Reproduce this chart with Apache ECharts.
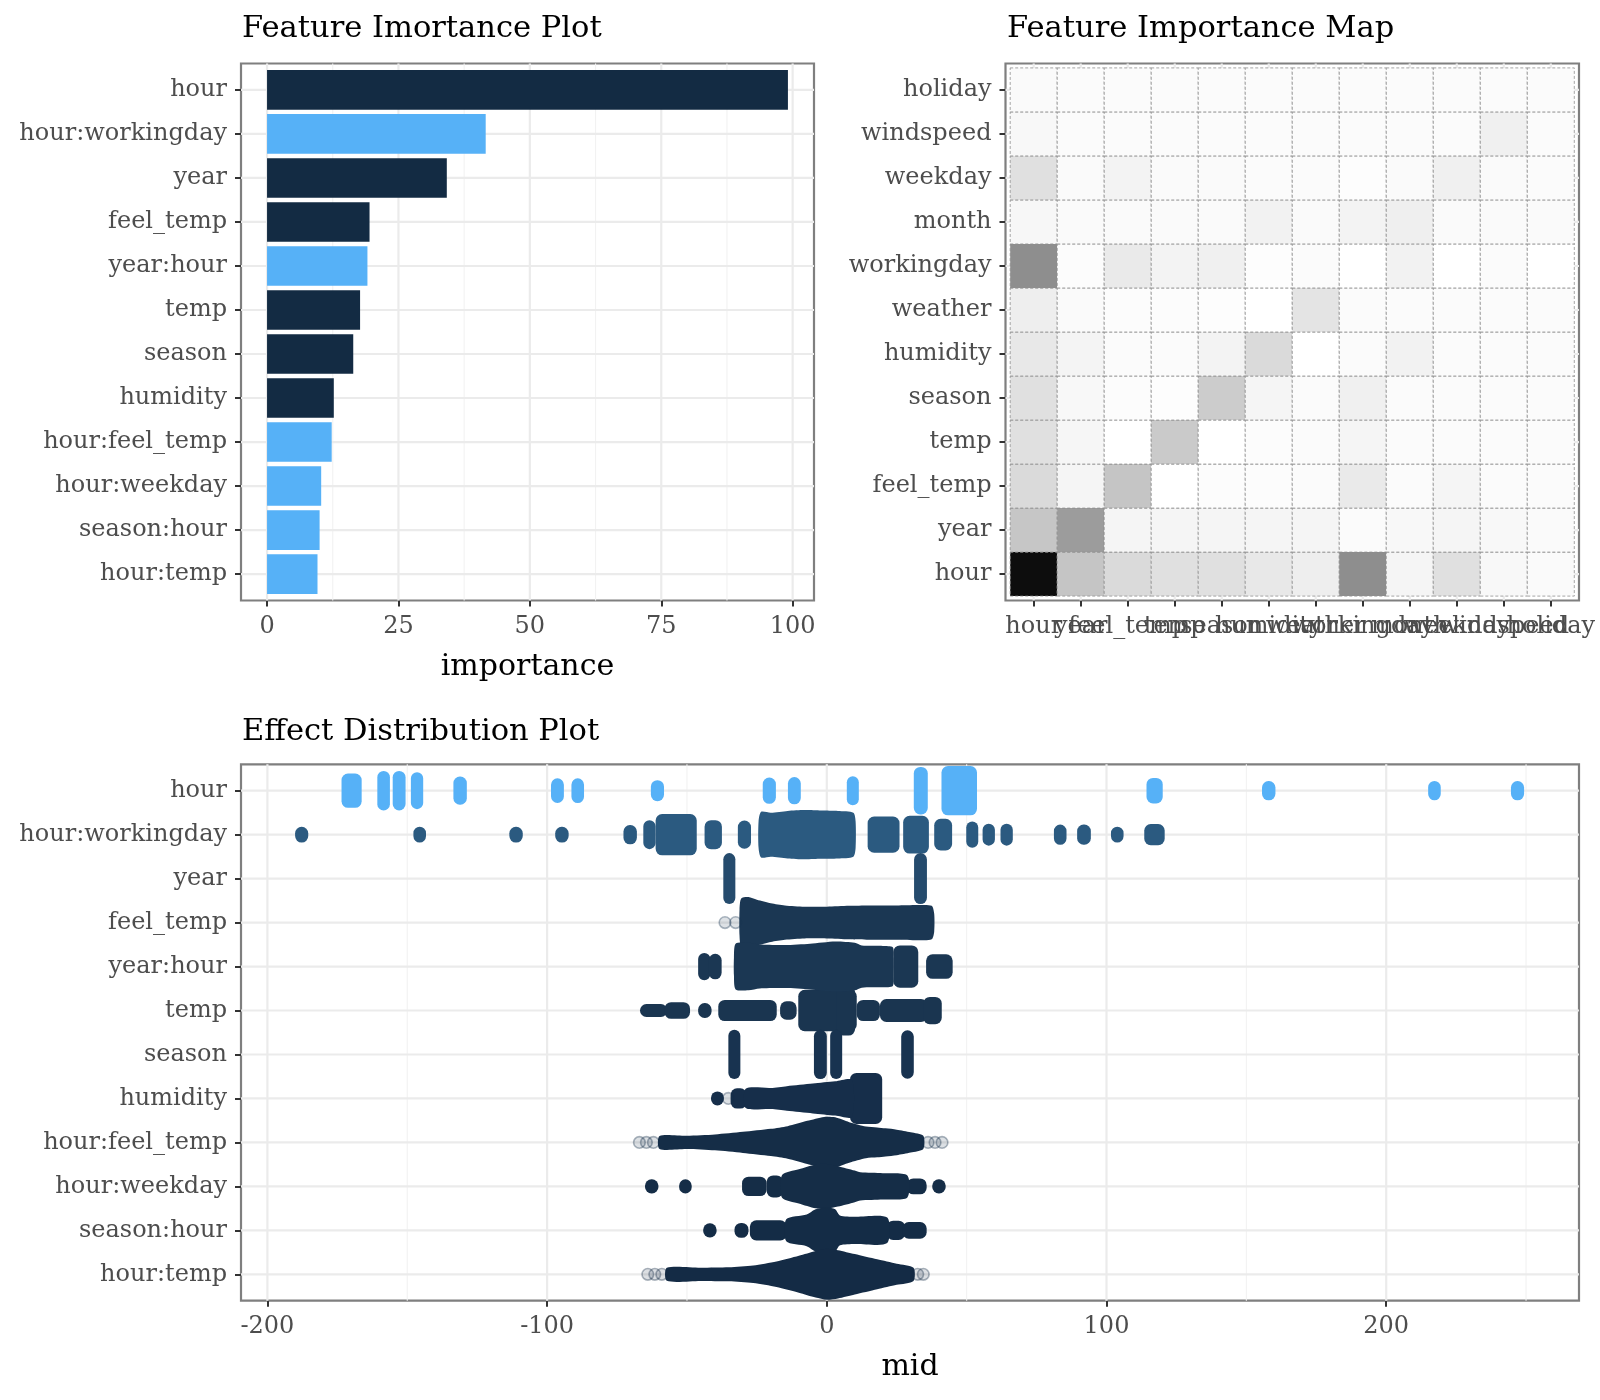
<!DOCTYPE html>
<html>
<head>
<meta charset="utf-8">
<title>Feature importance</title>
<script src="https://cdn.jsdelivr.net/npm/echarts@6/dist/echarts.min.js"></script>
<style>
    html, body { margin: 0; padding: 0; background: #fff; }
    #main { width: 1600px; height: 1400px; }
</style>
</head>
<body>
<div id="main"></div>
<script>
// ---- data ----
// features, top to bottom (bar plot + effect plot)
var features = ['hour', 'hour:workingday', 'year', 'feel_temp', 'year:hour', 'temp', 'season',
    'humidity', 'hour:feel_temp', 'hour:weekday', 'season:hour', 'hour:temp'];
var importance = [99.1, 41.6, 34.2, 19.5, 19.1, 17.7, 16.4, 12.7, 12.3, 10.3, 10.0, 9.6];
var importanceTicks = [0, 25, 50, 75, 100];
var importanceMinor = [12.5, 37.5, 62.5, 87.5];

// heat map, same order on both axes (y from bottom)
var heatFeatures = ['hour', 'year', 'feel_temp', 'temp', 'season', 'humidity', 'weather',
    'workingday', 'month', 'weekday', 'windspeed', 'holiday'];
var heatValues = [
    [99.4, 21.1, 13.4, 11.2, 11.2, 8.2, 6.1, 42.3, 3.6, 11.2, 2.5, 1.75],   // hour
    [20.6, 36.7, 3.6, 3.6, 3.6, 3.6, 3.6, 1.4, 2.5, 3.6, 2.5, 1.75],        // year
    [13.4, 3.6, 21.1, 0, 1.1, 1.1, 1.4, 7.5, 1.4, 3.6, 1.4, 1.4],           // feel_temp
    [11.2, 3.2, 0, 19.3, 0, 1.1, 1.4, 3.6, 1.4, 1.4, 1.4, 1.4],             // temp
    [11.2, 2.5, 1.1, 0.8, 18.6, 3.6, 1.4, 5.4, 1.4, 1.4, 1.4, 1.4],         // season
    [8.2, 3.9, 1.4, 1.4, 4.3, 13.4, 0, 1.4, 4.6, 1.4, 1.4, 1.4],            // humidity
    [6.1, 1.75, 1.1, 1.1, 0.8, 0, 9.7, 1.4, 1.4, 1.4, 1.4, 1.4],            // weather
    [42.3, 1.1, 7.5, 4.3, 5.4, 0.8, 1.4, 0, 4.6, 0, 1.4, 0],                // workingday
    [2.9, 1.75, 1.75, 1.75, 1.75, 4.6, 1.75, 4.3, 5.7, 1.75, 1.75, 1.75],   // month
    [11.2, 1.75, 4.3, 1.75, 1.75, 1.4, 1.4, 0.8, 1.75, 5.4, 1.75, 1.4],     // weekday
    [2.5, 1.4, 1.4, 1.4, 1.4, 1.4, 1.4, 1.4, 1.4, 1.4, 5.4, 1.4],           // windspeed
    [1.75, 1.4, 1.4, 1.4, 1.4, 1.4, 1.4, 1.4, 1.4, 1.4, 1.4, 1.4]           // holiday
];
var heatTicks = [0, 1, 2, 3, 4, 5, 6, 7, 8, 9, 10, 11];

// effect distribution: columns of points  [row, xFrom, xTo, half spread (rows)]
var swarmColumns = [
    [0, -173.5, -166.3, 0.39], [0, -160.7, -156.2, 0.45], [0, -155.2, -150.6, 0.45], [0, -148.7, -144.3, 0.42],
    [0, -133.5, -128.7, 0.32], [0, -98.6, -94.0, 0.28], [0, -91.3, -86.8, 0.28], [0, -62.9, -58.2, 0.24],
    [0, -22.9, -18.2, 0.3], [0, -13.9, -9.3, 0.31], [0, 7.2, 11.4, 0.33], [0, 31.1, 36.1, 0.54],
    [0, 41.0, 53.7, 0.56], [0, 114.3, 120.1, 0.29], [0, 155.6, 160.4, 0.22], [0, 215.0, 219.5, 0.22],
    [0, 244.6, 249.3, 0.22],
    [1, -190.1, -185.4, 0.18], [1, -147.8, -143.3, 0.18], [1, -113.5, -108.7, 0.18], [1, -97.1, -92.3, 0.18],
    [1, -72.7, -67.9, 0.22], [1, -65.6, -61.2, 0.33], [1, -61.2, -46.5, 0.47], [1, -43.7, -37.5, 0.33],
    [1, -31.8, -27.1, 0.32], [1, 14.6, 26.0, 0.41], [1, 27.3, 36.5, 0.43],
    [1, 38.4, 44.8, 0.36], [1, 49.9, 54.1, 0.3], [1, 55.7, 60.1, 0.25], [1, 62.1, 66.5, 0.25],
    [1, 81.2, 85.7, 0.23], [1, 89.5, 94.4, 0.23], [1, 101.6, 106.1, 0.18], [1, 113.5, 120.8, 0.24],
    [2, -37.0, -32.7, 0.58], [2, 31.2, 35.8, 0.58],
    [4, -46.0, -41.6, 0.31], [4, -42.2, -37.6, 0.29], [4, 23.8, 32.7, 0.48], [4, 35.5, 45.0, 0.28],
    [5, -66.8, -57.0, 0.13], [5, -58.0, -48.9, 0.19], [5, -46.0, -41.2, 0.17], [5, -38.8, -17.9, 0.24],
    [5, -16.7, -10.8, 0.21], [5, -10.2, 10.7, 0.47], [5, 3.5, 10.1, 0.57], [5, 10.7, 19.0, 0.24],
    [5, 19.0, 36.0, 0.26], [5, 34.5, 41.1, 0.31],
    [6, -35.1, -31.0, 0.56], [6, -4.6, 0.0, 0.56], [6, 1.3, 5.4, 0.56], [6, 26.6, 31.1, 0.55],
    [7, -41.4, -36.8, 0.16], [7, -34.4, -28.6, 0.23], [7, 8.3, 19.8, 0.58],
    [9, -65.0, -60.2, 0.16], [9, -52.8, -48.3, 0.16], [9, -30.3, -21.5, 0.22], [9, -21.5, -15.6, 0.25],
    [9, 28.6, 35.7, 0.18], [9, 37.7, 42.5, 0.16],
    [10, -44.2, -39.4, 0.16], [10, -33.0, -28.0, 0.17], [10, -27.5, -14.3, 0.23], [10, 21.4, 28.0, 0.22],
    [10, 27.0, 35.7, 0.19]
];
// dense bodies: [row, [[x, half spread], ...]]
var swarmBodies = [
    [1, [[-24.4, 0.3], [-23.5, 0.52], [-20, 0.5], [-14, 0.54], [-8, 0.56], [-2, 0.55], [4, 0.54], [9.5, 0.5],
        [10.3, 0.3]]],
    [3, [[-31.2, 0.3], [-30.6, 0.55], [-28, 0.58], [-25, 0.52], [-20, 0.44], [-15, 0.39], [-8, 0.36], [0, 0.36],
        [8, 0.38], [15, 0.39], [25, 0.39], [33, 0.4], [37.5, 0.38], [38.4, 0.2]]],
    [4, [[-33.2, 0.2], [-32.6, 0.52], [-28, 0.54], [-24, 0.5], [-15, 0.49], [-6, 0.52], [3, 0.57], [10, 0.54],
        [12.5, 0.48], [20, 0.47], [23.6, 0.44], [23.9, 0.2]]],
    [7, [[-29, 0.22], [-20, 0.24], [-14.3, 0.28], [-5, 0.34], [3, 0.39], [9, 0.42]]],
    [8, [[-59.8, 0.14], [-50, 0.15], [-40, 0.18], [-30, 0.24], [-20, 0.31], [-14, 0.37], [-7, 0.49], [-1, 0.58],
        [3, 0.57], [8, 0.46], [14, 0.36], [18, 0.34], [21, 0.32], [25, 0.29], [30, 0.23], [34.5, 0.15]]],
    [9, [[-16, 0.26], [-10, 0.39], [-4, 0.5], [0, 0.51], [4, 0.46], [10, 0.36], [12, 0.32], [20, 0.3],
        [28.8, 0.25]]],
    [10, [[-14.5, 0.25], [-7.2, 0.36], [-4, 0.48], [0, 0.52], [3, 0.48], [4.7, 0.34], [10, 0.31], [21.6, 0.29]]],
    [11, [[-57.2, 0.14], [-45, 0.15], [-35, 0.16], [-26.3, 0.2], [-18, 0.29], [-10, 0.42], [-4, 0.53], [0, 0.58],
        [4, 0.55], [10, 0.46], [18, 0.34], [25, 0.24], [31, 0.15]]]
];
// single transparent points  [row, x]
var swarmFaint = [
    [3, -36.4], [3, -32.6], [7, -35.2],
    [8, -67.0], [8, -64.5], [8, -62.0], [8, 36.2], [8, 38.7], [8, 41.2],
    [11, -64.0], [11, -61.5], [11, -59.0], [11, 32.5], [11, 34.5]
];
var midTicks = [-200, -100, 0, 100, 200];
var midMinor = [-150, -50, 50, 150, 250];

// ---- style ----
var FONT = '"DejaVu Serif", serif';
var darkBlue = '#132B43';
var lightBlue = '#56B1F7';
var swarmColors = ['#56B1F7', '#2B5A80', '#254B6D', '#1B3753', '#1B3753', '#1A3550', '#183350',
    '#162E4A', '#152D47', '#152D47', '#142C46', '#142B45'];
var rowTicks = heatTicks;

$main();

function $main() {
    var myChart = echarts.init(document.getElementById('main'));

    // ggplot style grey: lightness goes down linearly with the value
    function greyOf(v) {
        var L = 100 - 0.97 * v;
        var Y = L > 8 ? Math.pow((L + 16) / 116, 3) : L / 903.3;
        var c = Y <= 0.0031308 ? 12.92 * Y : 1.055 * Math.pow(Y, 1 / 2.4) - 0.055;
        var g = Math.round(Math.max(0, Math.min(1, c)) * 255);
        return 'rgb(' + g + ',' + g + ',' + g + ')';
    }

    function hexAlpha(hex, a) {
        var n = parseInt(hex.slice(1), 16);
        return 'rgba(' + (n >> 16) + ',' + ((n >> 8) & 255) + ',' + (n & 255) + ',' + a + ')';
    }

    // keepAll: pad with two blank edge labels so echarts does not drop
    // the labels next to min / max when they overlap
    function valueAxis(gridIndex, min, max, ticks, names, inverse, keepAll, isY) {
        var vals = keepAll ? [min + 0.01].concat(ticks, [max - 0.01]) : ticks;
        return {
            type: 'value',
            gridIndex: gridIndex,
            min: min,
            max: max,
            inverse: !!inverse,
            axisLine: { show: false, onZero: false },
            splitLine: { show: false },
            axisTick: {
                show: true,
                customValues: vals,
                length: 6,
                lineStyle: { color: '#333333', width: 2 }
            },
            axisLabel: {
                customValues: vals,
                showMinLabel: keepAll ? false : true,
                showMaxLabel: keepAll ? false : true,
                hideOverlap: false,
                color: '#4D4D4D',
                fontFamily: FONT,
                fontSize: 24,
                margin: 14,
                padding: isY ? [4, 0, 0, 0] : 0,
                formatter: function (v) {
                    if (Math.abs(v - Math.round(v)) > 0.001) return '';
                    return names ? names[Math.round(v)] : String(v);
                }
            }
        };
    }

    // grid lines drawn through the axes
    function gridLineSeries(xi, vertical, data, isMajor) {
        return {
            type: 'custom',
            xAxisIndex: xi,
            yAxisIndex: xi,
            silent: true,
            z: 1,
            data: data.map(function (d) { return [d]; }),
            renderItem: function (params, api) {
                var cs = params.coordSys;
                var style = { stroke: isMajor ? '#EBEBEB' : '#F2F2F2', lineWidth: isMajor ? 2.2 : 1.1 };
                if (vertical) {
                    var x = api.coord([api.value(0), 0])[0];
                    return { type: 'line', shape: { x1: x, y1: cs.y, x2: x, y2: cs.y + cs.height }, style: style };
                }
                var y = api.coord([0, api.value(0)])[1];
                return { type: 'line', shape: { x1: cs.x, y1: y, x2: cs.x + cs.width, y2: y }, style: style };
            }
        };
    }

    function text(str, x, y, size, align) {
        return {
            type: 'text', x: x, y: y, silent: true,
            style: {
                text: str, font: size + 'px ' + FONT, fill: '#000000',
                align: align, verticalAlign: 'middle', textAlign: align, textVerticalAlign: 'middle'
            }
        };
    }

    var option = {
        backgroundColor: '#ffffff',
        animation: false,
        grid: [
            { left: 241, top: 63.5, width: 573, height: 537, show: true, borderColor: '#7F7F7F', borderWidth: 2.2 },
            { left: 1005.5, top: 63.5, width: 573.5, height: 537, show: true, borderColor: '#7F7F7F', borderWidth: 2.2 },
            { left: 241, top: 764.3, width: 1338, height: 536.4, show: true, borderColor: '#7F7F7F', borderWidth: 2.2 }
        ],
        xAxis: [
            valueAxis(0, -4.955, 104.06, importanceTicks, null, false),
            valueAxis(1, -0.6, 11.6, heatTicks, heatFeatures, false, true),
            valueAxis(2, -209.44, 268.93, midTicks, null, false)
        ],
        yAxis: [
            valueAxis(0, -0.6, 11.6, rowTicks, features, true, false, true),
            valueAxis(1, -0.6, 11.6, heatTicks, heatFeatures, false, false, true),
            valueAxis(2, -0.6, 11.6, rowTicks, features, true, false, true)
        ],
        graphic: [
            text('Feature Imortance Plot', 242, 29, 30.5, 'left'),
            text('Feature Importance Map', 1007, 29, 30.5, 'left'),
            text('Effect Distribution Plot', 242, 732, 30.5, 'left'),
            text('importance', 527.5, 667, 30, 'center'),
            text('mid', 910, 1367, 30, 'center')
        ],
        series: [
            gridLineSeries(0, true, importanceMinor, false),
            gridLineSeries(0, true, importanceTicks, true),
            gridLineSeries(0, false, rowTicks, true),
            gridLineSeries(1, true, heatTicks, true),
            gridLineSeries(1, false, heatTicks, true),
            gridLineSeries(2, true, midMinor, false),
            gridLineSeries(2, true, midTicks, true),
            gridLineSeries(2, false, rowTicks, true),
            // importance bars
            {
                type: 'custom',
                xAxisIndex: 0,
                yAxisIndex: 0,
                z: 2,
                data: importance.map(function (v, i) { return [v, i]; }),
                renderItem: function (params, api) {
                    var i = api.value(1);
                    var p0 = api.coord([0, i - 0.45]);
                    var p1 = api.coord([api.value(0), i + 0.45]);
                    var isInter = features[i].indexOf(':') >= 0;
                    return {
                        type: 'rect',
                        shape: { x: p0[0], y: Math.min(p0[1], p1[1]), width: p1[0] - p0[0], height: Math.abs(p1[1] - p0[1]) },
                        style: { fill: isInter ? lightBlue : darkBlue }
                    };
                }
            },
            // heat tiles
            {
                type: 'custom',
                xAxisIndex: 1,
                yAxisIndex: 1,
                z: 2,
                data: (function () {
                    var out = [];
                    heatValues.forEach(function (row, j) {
                        row.forEach(function (v, i) { out.push([i, j, v]); });
                    });
                    return out;
                })(),
                renderItem: function (params, api) {
                    var i = api.value(0), j = api.value(1);
                    var p0 = api.coord([i - 0.5, j + 0.5]);
                    var p1 = api.coord([i + 0.5, j - 0.5]);
                    return {
                        type: 'rect',
                        shape: { x: p0[0], y: p0[1], width: p1[0] - p0[0], height: p1[1] - p0[1] },
                        style: { fill: greyOf(api.value(2)), stroke: '#8f8f8f', lineWidth: 0.8, lineDash: [3, 2] }
                    };
                }
            },
            // effect columns
            {
                type: 'custom',
                xAxisIndex: 2,
                yAxisIndex: 2,
                z: 2,
                data: swarmColumns,
                renderItem: function (params, api) {
                    var row = api.value(0);
                    var band = Math.abs(api.size([0, 1])[1]);
                    var a = api.coord([api.value(1), row]);
                    var b = api.coord([api.value(2), row]);
                    var w = Math.max(b[0] - a[0], 12);
                    var cx = (a[0] + b[0]) / 2;
                    var hh = Math.max(api.value(3) * band, 6.5);
                    return {
                        type: 'rect',
                        shape: { x: cx - w / 2, y: a[1] - hh, width: w, height: hh * 2, r: Math.min(6.5, w / 2, hh) },
                        style: { fill: swarmColors[row] }
                    };
                }
            },
            // effect bodies
            {
                type: 'custom',
                xAxisIndex: 2,
                yAxisIndex: 2,
                z: 2,
                data: swarmBodies.map(function (b, k) { return [b[0], k]; }),
                renderItem: function (params, api) {
                    var row = api.value(0);
                    var knots = swarmBodies[api.value(1)][1];
                    var band = Math.abs(api.size([0, 1])[1]);
                    var top = [], bottom = [];
                    knots.forEach(function (k) {
                        var p = api.coord([k[0], row]);
                        var hh = Math.max(k[1] * band, 6.5);
                        top.push([p[0], p[1] - hh]);
                        bottom.unshift([p[0], p[1] + hh]);
                    });
                    return {
                        type: 'polygon',
                        shape: { points: top.concat(bottom), smooth: 0.25 },
                        style: { fill: swarmColors[row] }
                    };
                }
            },
            // transparent single points
            {
                type: 'custom',
                xAxisIndex: 2,
                yAxisIndex: 2,
                z: 3,
                data: swarmFaint,
                renderItem: function (params, api) {
                    var row = api.value(0);
                    var p = api.coord([api.value(1), row]);
                    return {
                        type: 'circle',
                        shape: { cx: p[0], cy: p[1], r: 5.8 },
                        style: { fill: hexAlpha(swarmColors[row], 0.15), stroke: hexAlpha(swarmColors[row], 0.35), lineWidth: 1.6 }
                    };
                }
            }
        ]
    };

    myChart.setOption(option);
    window.addEventListener('resize', function () { myChart.resize(); });
}
</script>
</body>
</html>
